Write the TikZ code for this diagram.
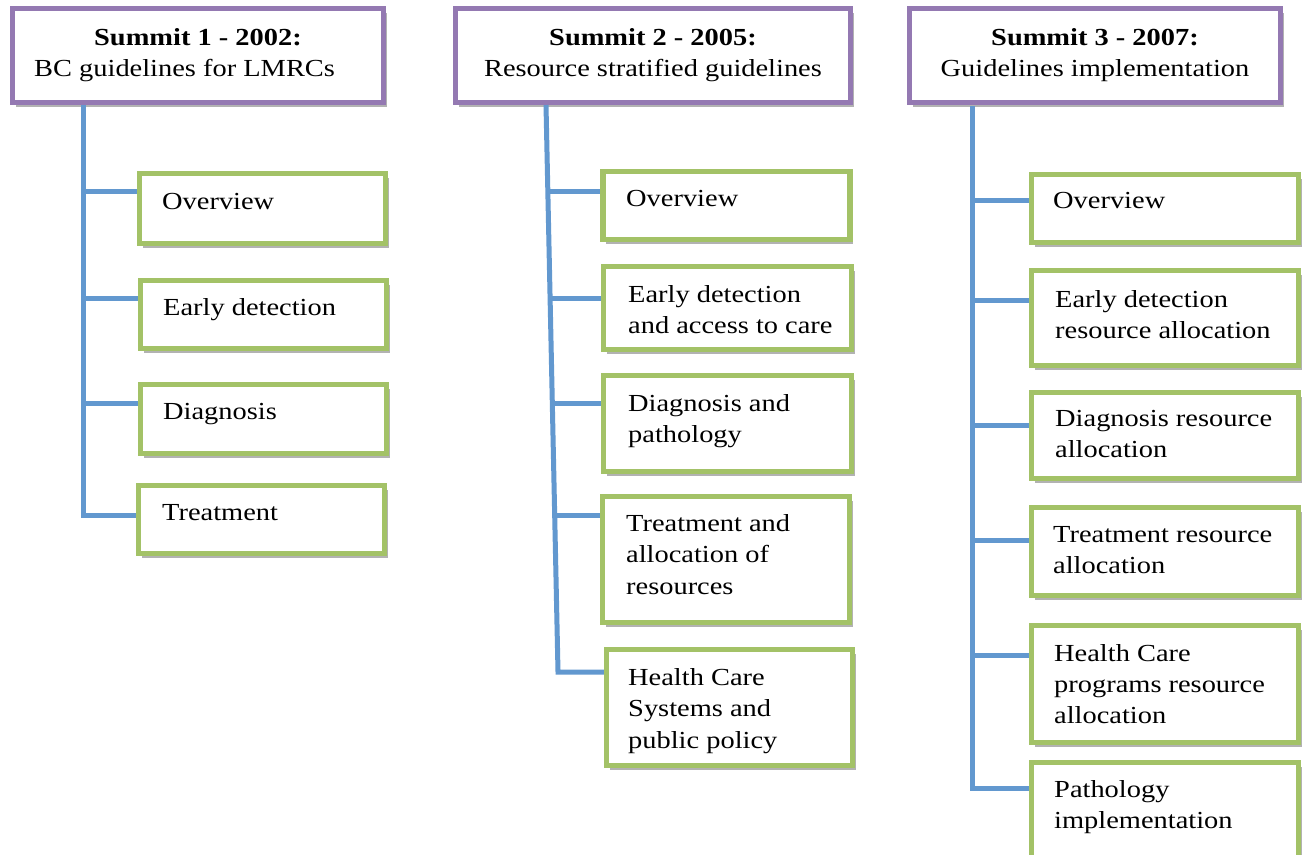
\documentclass[tikz,border=0pt]{standalone}
\usepackage{fontspec}
\setmainfont{Liberation Serif}[FakeStretch=1.16]
\usetikzlibrary{shadows,calc}
\definecolor{hdrpurple}{RGB}{148,121,178}
\definecolor{boxgreen}{RGB}{163,194,103}
\definecolor{linkblue}{RGB}{98,152,207}
\tikzset{
  pbox/.style={draw=hdrpurple, line width=5.5pt, fill=white, inner sep=0pt,
    drop shadow={shadow xshift=3pt, shadow yshift=-4pt, opacity=0.3, fill=black}},
  gbox/.style={draw=boxgreen, line width=5.5pt, fill=white, inner sep=0pt,
    drop shadow={shadow xshift=3pt, shadow yshift=-4pt, opacity=0.3, fill=black}},
  conn/.style={draw=linkblue, line width=5pt},
  hdr/.style={inner sep=0pt, font=\fontsize{24.5}{31}\selectfont},
  txt/.style={inner sep=0pt, anchor=north west, align=left,
    font=\fontsize{24.5}{31.2}\selectfont, execute at begin node=\strut},
}
\begin{document}
\begin{tikzpicture}[x=1pt,y=-1pt]
\useasboundingbox[fill=white] (0,0) rectangle (1303,854);

% ---- column coordinates (trunk junctions) ----
\coordinate (t1) at (83,105);
\coordinate (j1a) at (83,191);
\coordinate (j1b) at (83,298);
\coordinate (j1c) at (83,403);
\coordinate (j1d) at (83,515);

\coordinate (t2) at (546,105);
\coordinate (j2a) at (547.8,191);
\coordinate (j2b) at (550.1,298);
\coordinate (j2c) at (552.3,403);
\coordinate (j2d) at (554.7,515);
\coordinate (j2e) at (558,672);

\coordinate (t3) at (972,106);
\coordinate (j3a) at (972,200);
\coordinate (j3b) at (972,300);
\coordinate (j3c) at (972,425);
\coordinate (j3d) at (972,540);
\coordinate (j3e) at (972,655);
\coordinate (j3f) at (972,788);

% ---- header boxes ----
\node[pbox, minimum width=371pt, minimum height=94pt] (s1) at (198,55.5) {};
\node[pbox, minimum width=395pt, minimum height=94pt] (s2) at (653,55.5) {};
\node[pbox, minimum width=371pt, minimum height=94pt] (s3) at (1095,55.5) {};

% ---- column 1 boxes ----
\node[gbox, minimum width=246pt, minimum height=70pt] (c1a) at (262.5,208.5) {};
\node[gbox, minimum width=246pt, minimum height=68pt] (c1b) at (263.5,314.5) {};
\node[gbox, minimum width=246pt, minimum height=69pt] (c1c) at (263.5,419) {};
\node[gbox, minimum width=246pt, minimum height=68pt] (c1d) at (261.5,519.5) {};

% ---- column 2 boxes ----
\node[gbox, minimum width=247pt, minimum height=68pt] (c2a) at (726.5,205.5) {};
\node[gbox, minimum width=248pt, minimum height=83pt] (c2b) at (727.5,308) {};
\node[gbox, minimum width=248pt, minimum height=96pt] (c2c) at (727.5,423.5) {};
\node[gbox, minimum width=247pt, minimum height=126pt] (c2d) at (726,559.5) {};
\node[gbox, minimum width=246pt, minimum height=116pt] (c2e) at (729.5,707.5) {};

% ---- column 3 boxes ----
\node[gbox, minimum width=267pt, minimum height=68pt] (c3a) at (1165,208.5) {};
\node[gbox, minimum width=267pt, minimum height=95pt] (c3b) at (1165,318) {};
\node[gbox, minimum width=267pt, minimum height=86pt] (c3c) at (1165,435.5) {};
\node[gbox, minimum width=267pt, minimum height=88pt] (c3d) at (1165,551.5) {};
\node[gbox, minimum width=267pt, minimum height=117pt] (c3e) at (1165,684) {};
\node[gbox, minimum width=267pt, minimum height=105pt] (c3f) at (1165,815) {};

% ---- connectors ----
\draw[conn] (t1) -- (j1d) -- (j1d -| c1d.west);
\draw[conn] (j1a) -- (j1a -| c1a.west);
\draw[conn] (j1b) -- (j1b -| c1b.west);
\draw[conn] (j1c) -- (j1c -| c1c.west);

\draw[conn] (t2) -- (j2e) -- (j2e -| c2e.west);
\draw[conn] (j2a) -- (j2a -| c2a.west);
\draw[conn] (j2b) -- (j2b -| c2b.west);
\draw[conn] (j2c) -- (j2c -| c2c.west);
\draw[conn] (j2d) -- (j2d -| c2d.west);

\draw[conn] (t3) -- (j3f) -- (j3f -| c3f.west);
\draw[conn] (j3a) -- (j3a -| c3a.west);
\draw[conn] (j3b) -- (j3b -| c3b.west);
\draw[conn] (j3c) -- (j3c -| c3c.west);
\draw[conn] (j3d) -- (j3d -| c3d.west);
\draw[conn] (j3e) -- (j3e -| c3e.west);

% ---- header texts ----
\node[hdr, anchor=base] (h1a) at (198,45) {\textbf{Summit 1 - 2002:}};
\node[hdr, anchor=base west] (h1b) at (34,76) {BC guidelines for LMRCs};
\node[hdr, anchor=base] (h2a) at (653,45) {\textbf{Summit 2 - 2005:}};
\node[hdr, anchor=base] (h2b) at (653,76) {Resource stratified guidelines};
\node[hdr, anchor=base] (h3a) at (1095,45) {\textbf{Summit 3 - 2007:}};
\node[hdr, anchor=base] (h3b) at (1095,76) {Guidelines implementation};

% ---- box texts ----
\node[txt] (x1a) at (162,187) {Overview};
\node[txt] (x1b) at (163,293) {Early detection};
\node[txt] (x1c) at (163,397) {Diagnosis};
\node[txt] (x1d) at (162,498) {Treatment};

\node[txt] (x2a) at (626,184) {Overview};
\node[txt] (x2b) at (628,285.5) {Early detection\\and access to care};
\node[txt] (x2c) at (628,394.5) {Diagnosis and\\pathology};
\node[txt] (x2d) at (626,514.5) {Treatment and\\allocation of\\resources};
\node[txt] (x2e) at (628,668.5) {Health Care\\Systems and\\public policy};

\node[txt] (x3a) at (1053,186) {Overview};
\node[txt] (x3b) at (1055,290) {Early detection\\resource allocation};
\node[txt] (x3c) at (1055,410) {Diagnosis resource\\allocation};
\node[txt] (x3d) at (1053,526) {Treatment resource\\allocation};
\node[txt] (x3e) at (1054,644) {Health Care\\programs resource\\allocation};
\node[txt] (x3f) at (1054,780) {Pathology\\implementation};
\end{tikzpicture}
\end{document}
